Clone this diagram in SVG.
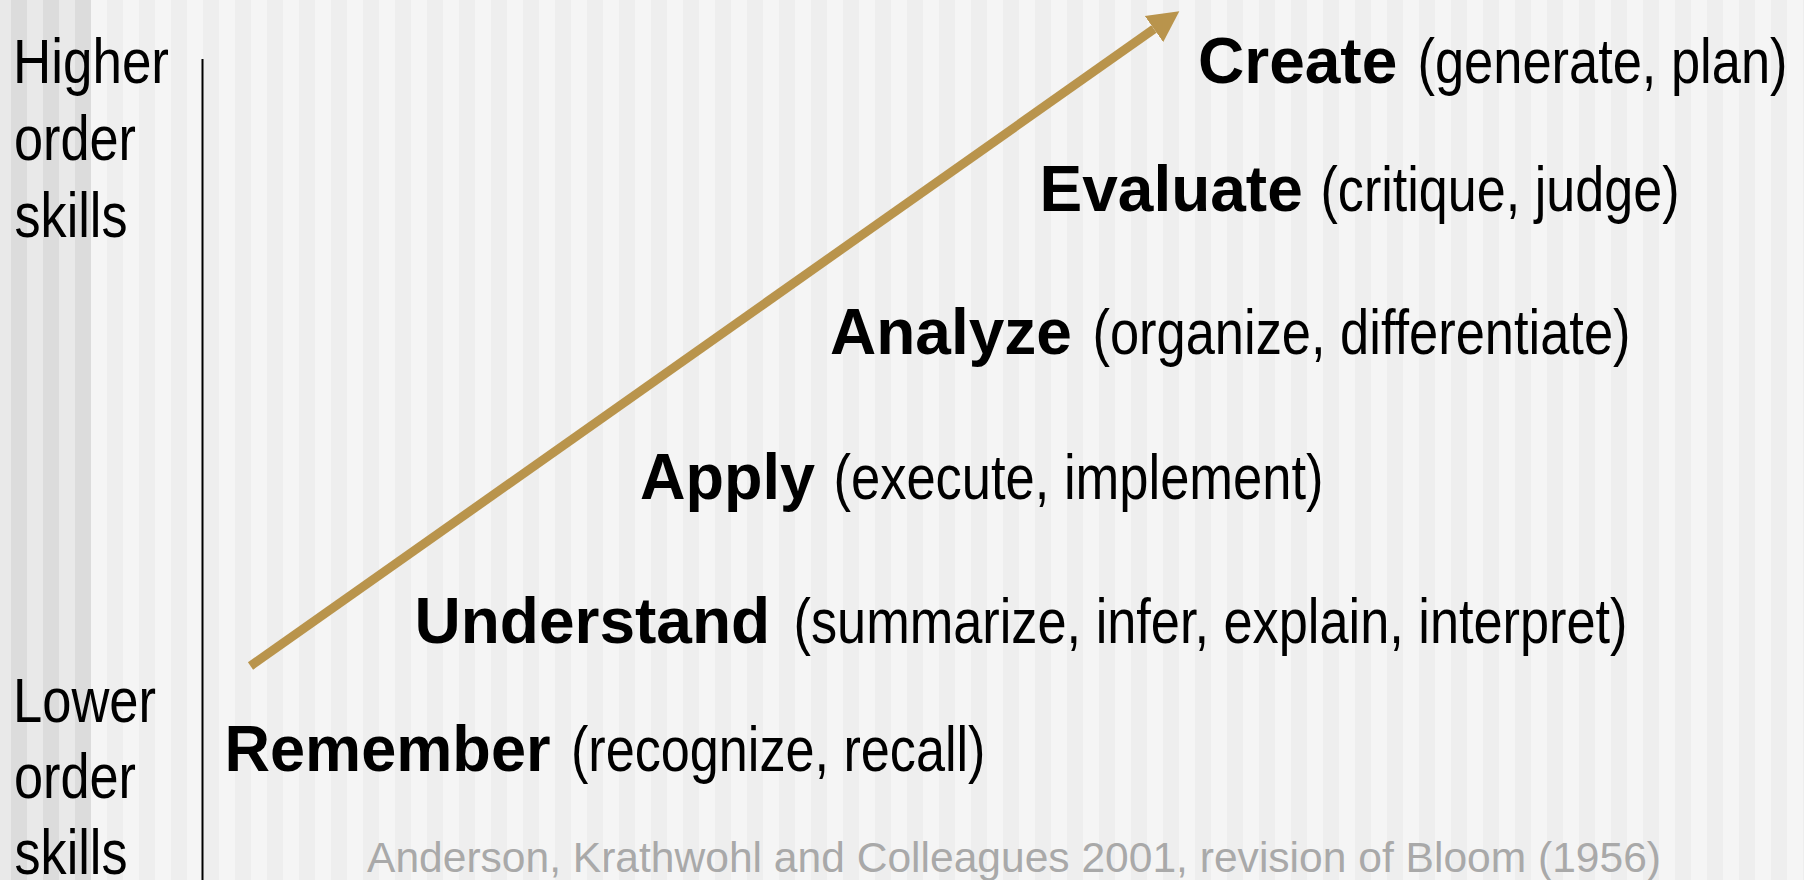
<svg xmlns="http://www.w3.org/2000/svg" width="1804" height="880" viewBox="0 0 1804 880">
  <defs>
    <pattern id="stripesMain" x="107" y="0" width="32" height="880" patternUnits="userSpaceOnUse">
      <rect x="0" y="0" width="32" height="880" fill="#f5f5f5"/>
      <rect x="0" y="0" width="16" height="880" fill="#eeeeee"/>
    </pattern>
    <pattern id="stripesLeft" x="11" y="0" width="32" height="880" patternUnits="userSpaceOnUse">
      <rect x="0" y="0" width="32" height="880" fill="#e9e9e9"/>
      <rect x="0" y="0" width="16" height="880" fill="#dcdcdc"/>
    </pattern>
    <marker id="head" markerUnits="userSpaceOnUse" markerWidth="32" markerHeight="34" refX="0" refY="16" orient="auto" viewBox="0 0 32 32">
      <path d="M0,0 L31,16 L0,32 Z" fill="#b9944c"/>
    </marker>
    <style>
      .b { font-family: "Liberation Sans", Arial, sans-serif; font-weight: bold; font-size: 64px; fill: #000; }
      .n { font-family: "Liberation Sans", Arial, sans-serif; font-size: 62.5px; fill: #000; }
      .foot { font-family: "Liberation Sans", Arial, sans-serif; font-size: 42.5px; fill: #a9a9a9; }
      .conn { stroke: #b9944c; stroke-width: 9; fill: none; }
    </style>
  </defs>

  <rect x="0" y="0" width="1804" height="880" fill="url(#stripesMain)"/>
  <rect x="0" y="0" width="91" height="880" fill="url(#stripesLeft)"/>

  <g id="axis">
    <line x1="202.5" y1="59" x2="202.5" y2="880" stroke="#000" stroke-width="2"/>
  </g>

  <g id="label-higher">
    <text class="n" x="13" y="83" textLength="156" lengthAdjust="spacingAndGlyphs">Higher</text>
    <text class="n" x="14" y="160" textLength="122" lengthAdjust="spacingAndGlyphs">order</text>
    <text class="n" x="14.5" y="237" textLength="113" lengthAdjust="spacingAndGlyphs">skills</text>
  </g>
  <g id="label-lower">
    <text class="n" x="13" y="722" textLength="143" lengthAdjust="spacingAndGlyphs">Lower</text>
    <text class="n" x="14" y="798" textLength="122" lengthAdjust="spacingAndGlyphs">order</text>
    <text class="n" x="14.5" y="874" textLength="113" lengthAdjust="spacingAndGlyphs">skills</text>
  </g>

  <g id="connectors">
    <line class="conn" x1="250.5" y1="666" x2="1154" y2="29" marker-end="url(#head)"/>
  </g>

  <g id="create">
    <text class="b" x="1198" y="83">Create</text>
    <text class="n" x="1417.5" y="83" textLength="370" lengthAdjust="spacingAndGlyphs">(generate, plan)</text>
  </g>
  <g id="evaluate">
    <text class="b" x="1039.5" y="211">Evaluate</text>
    <text class="n" x="1320.5" y="211" textLength="359" lengthAdjust="spacingAndGlyphs">(critique, judge)</text>
  </g>
  <g id="analyze">
    <text class="b" x="830" y="354">Analyze</text>
    <text class="n" x="1092.5" y="354" textLength="538" lengthAdjust="spacingAndGlyphs">(organize, differentiate)</text>
  </g>
  <g id="apply">
    <text class="b" x="640" y="499" textLength="175" lengthAdjust="spacingAndGlyphs">Apply</text>
    <text class="n" x="833.5" y="499" textLength="490" lengthAdjust="spacingAndGlyphs">(execute, implement)</text>
  </g>
  <g id="understand">
    <text class="b" x="414.5" y="643">Understand</text>
    <text class="n" x="793.5" y="643" textLength="834" lengthAdjust="spacingAndGlyphs">(summarize, infer, explain, interpret)</text>
  </g>
  <g id="remember">
    <text class="b" x="224.5" y="771" textLength="326" lengthAdjust="spacingAndGlyphs">Remember</text>
    <text class="n" x="571" y="771" textLength="414.5" lengthAdjust="spacingAndGlyphs">(recognize, recall)</text>
  </g>

  <g id="citation">
    <text class="foot" x="367" y="872" textLength="1294" lengthAdjust="spacingAndGlyphs">Anderson, Krathwohl and Colleagues 2001, revision of Bloom (1956)</text>
  </g>
</svg>
